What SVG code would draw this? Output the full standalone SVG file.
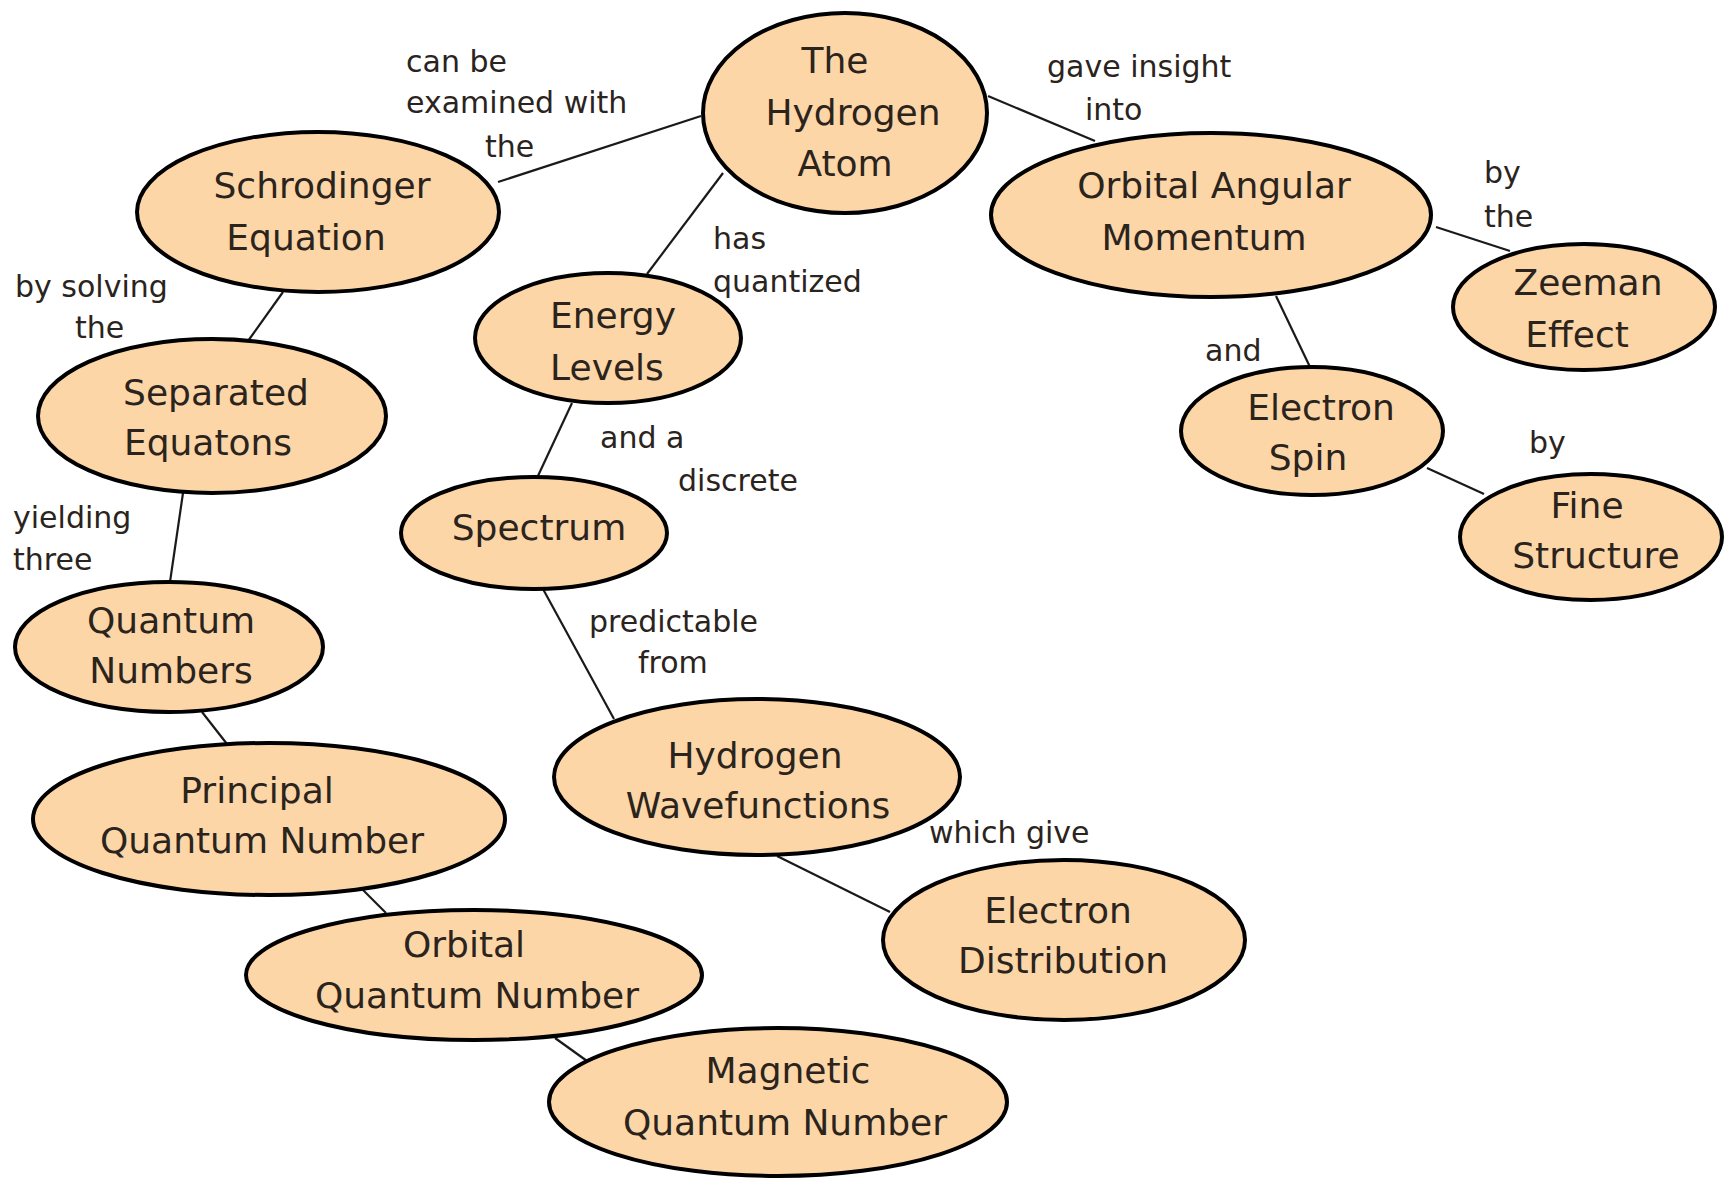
<svg xmlns="http://www.w3.org/2000/svg" width="1729" height="1178" viewBox="0 0 1729 1178">
<style>
.n{fill:#FDD6A8;stroke:#000;stroke-width:4}
.t{font-family:"DejaVu Sans",sans-serif;font-size:36px;fill:#2b241d;text-anchor:middle}
.l{font-family:"DejaVu Sans",sans-serif;font-size:30px;fill:#2b241d}
.c line{stroke:#1a1a1a;stroke-width:2.2}
</style>
<rect width="1729" height="1178" fill="#fff"/>
<g id="connectors" class="c">
<line x1="701" y1="116" x2="498" y2="182"/>
<line x1="988" y1="96" x2="1095" y2="141"/>
<line x1="723" y1="173" x2="647" y2="274"/>
<line x1="283" y1="292" x2="248" y2="341"/>
<line x1="183" y1="493" x2="170" y2="582"/>
<line x1="202" y1="712" x2="227" y2="744"/>
<line x1="363" y1="890" x2="386" y2="913"/>
<line x1="555" y1="1038" x2="587" y2="1061"/>
<line x1="572" y1="403" x2="537" y2="478"/>
<line x1="543" y1="589" x2="614" y2="719"/>
<line x1="777" y1="856" x2="890" y2="912"/>
<line x1="1436" y1="227" x2="1510" y2="251"/>
<line x1="1276" y1="296" x2="1310" y2="367"/>
<line x1="1427" y1="468" x2="1484" y2="494"/>
</g>
<g id="hydrogen-atom"><ellipse class="n" cx="845" cy="113" rx="142" ry="100"/><text class="t"><tspan x="835" y="73">The</tspan><tspan x="853" y="125">Hydrogen</tspan><tspan x="845" y="176">Atom</tspan></text></g>
<g id="schrodinger"><ellipse class="n" cx="318" cy="212" rx="181" ry="80"/><text class="t"><tspan x="322" y="198">Schrodinger</tspan><tspan x="306" y="250">Equation</tspan></text></g>
<g id="separated"><ellipse class="n" cx="212" cy="416" rx="174" ry="77"/><text class="t"><tspan x="216" y="405">Separated</tspan><tspan x="208" y="455">Equatons</tspan></text></g>
<g id="quantum-numbers"><ellipse class="n" cx="169" cy="647" rx="154" ry="65"/><text class="t"><tspan x="171" y="633">Quantum</tspan><tspan x="171" y="683">Numbers</tspan></text></g>
<g id="principal"><ellipse class="n" cx="269" cy="819" rx="236" ry="76"/><text class="t"><tspan x="257" y="803">Principal</tspan><tspan x="262" y="853">Quantum Number</tspan></text></g>
<g id="orbital-qn"><ellipse class="n" cx="474" cy="975" rx="228" ry="65"/><text class="t"><tspan x="464" y="957">Orbital</tspan><tspan x="477" y="1008">Quantum Number</tspan></text></g>
<g id="magnetic-qn"><ellipse class="n" cx="778" cy="1102" rx="229" ry="74"/><text class="t"><tspan x="788" y="1083">Magnetic</tspan><tspan x="785" y="1135">Quantum Number</tspan></text></g>
<g id="energy-levels"><ellipse class="n" cx="608" cy="338" rx="133" ry="65"/><text class="t"><tspan x="613" y="328">Energy</tspan><tspan x="607" y="380">Levels</tspan></text></g>
<g id="spectrum"><ellipse class="n" cx="534" cy="533" rx="133" ry="56"/><text class="t" x="539" y="540">Spectrum</text></g>
<g id="wavefunctions"><ellipse class="n" cx="757" cy="777" rx="203" ry="78"/><text class="t"><tspan x="755" y="768">Hydrogen</tspan><tspan x="758" y="818">Wavefunctions</tspan></text></g>
<g id="electron-distribution"><ellipse class="n" cx="1064" cy="940" rx="181" ry="80"/><text class="t"><tspan x="1058" y="923">Electron</tspan><tspan x="1063" y="973">Distribution</tspan></text></g>
<g id="orbital-angular"><ellipse class="n" cx="1211" cy="215" rx="220" ry="82"/><text class="t"><tspan x="1214" y="198">Orbital Angular</tspan><tspan x="1204" y="250">Momentum</tspan></text></g>
<g id="zeeman"><ellipse class="n" cx="1584" cy="307" rx="131" ry="63"/><text class="t"><tspan x="1588" y="295">Zeeman</tspan><tspan x="1577" y="347">Effect</tspan></text></g>
<g id="electron-spin"><ellipse class="n" cx="1312" cy="431" rx="131" ry="64"/><text class="t"><tspan x="1321" y="420">Electron</tspan><tspan x="1308" y="470">Spin</tspan></text></g>
<g id="fine-structure"><ellipse class="n" cx="1591" cy="537" rx="131" ry="63"/><text class="t"><tspan x="1587" y="518">Fine</tspan><tspan x="1596" y="568">Structure</tspan></text></g>
<g id="labels">
<text class="l"><tspan x="406" y="72">can be</tspan><tspan x="406" y="113">examined with</tspan><tspan x="485" y="157">the</tspan></text>
<text class="l"><tspan x="1047" y="77">gave insight</tspan><tspan x="1085" y="120">into</tspan></text>
<text class="l"><tspan x="15" y="297">by solving</tspan><tspan x="75" y="338">the</tspan></text>
<text class="l"><tspan x="713" y="249">has</tspan><tspan x="713" y="292">quantized</tspan></text>
<text class="l"><tspan x="600" y="448">and a</tspan><tspan x="678" y="491">discrete</tspan></text>
<text class="l"><tspan x="13" y="528">yielding</tspan><tspan x="13" y="570">three</tspan></text>
<text class="l"><tspan x="589" y="632">predictable</tspan><tspan x="638" y="673">from</tspan></text>
<text class="l" x="929" y="843">which give</text>
<text class="l"><tspan x="1484" y="183">by</tspan><tspan x="1484" y="227">the</tspan></text>
<text class="l" x="1205" y="361">and</text>
<text class="l" x="1529" y="453">by</text>
</g>
</svg>
